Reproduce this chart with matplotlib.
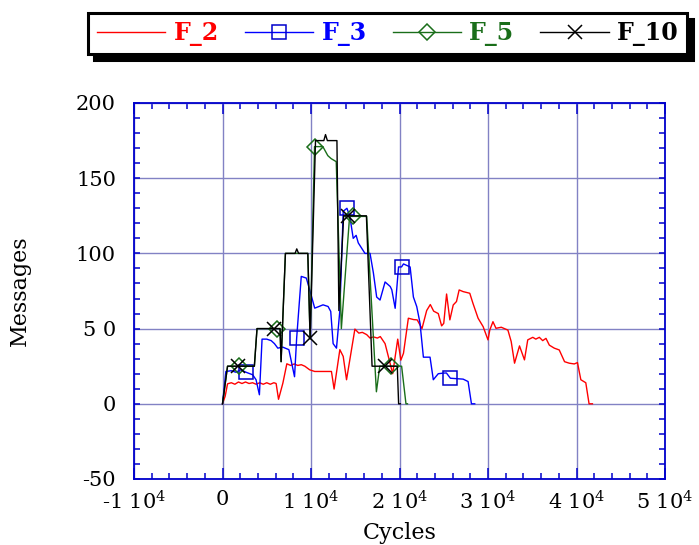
import matplotlib
matplotlib.use("Agg")
import matplotlib.pyplot as plt
from matplotlib.ticker import MultipleLocator, FixedLocator, FixedFormatter

# ---------------- data ----------------
f2_x = [0, 300, 570, 1000, 1400, 1800, 2200, 2600, 3000, 3400, 3800, 4200, 4600, 5000, 5400, 5800,
        6060, 6330, 6820, 7270, 7700, 8100, 8500, 8900, 9300, 9850, 10420, 11000, 11600, 12310,
        12610, 13260, 13640, 14015, 14960, 15400, 15800, 16290, 16670, 17050, 17500, 17830, 18370,
        18760, 19230, 19800, 20150, 20450, 21000, 21590, 22000, 22540, 23070, 23480, 23860, 24380,
        24760, 25000, 25320, 25690, 26070, 26440, 26740, 27190, 27940, 28300, 28880, 29450, 30000,
        30200, 30560, 30900, 31500, 32250, 32620, 33000, 33560, 34120, 34490, 35060, 35400, 35800,
        36180, 36550, 36930, 37490, 38050, 38650, 39180, 39750, 40110, 40490, 41050, 41420, 41800]
f2_y = [0, 5, 13.3, 14, 13, 14.5, 13.5, 14.5, 13.5, 14, 13, 14, 13, 14, 13, 14,
        13.5, 3, 13.7, 26.6, 25.5, 26.5, 25.5, 26, 25, 22.6, 21.5, 21.5, 21.5, 21.5,
        9.8, 36, 31.5, 16, 49.7, 47, 47.5, 46, 43.7, 44.5, 43.7, 44.7, 40,
        31, 20, 43, 29, 33.6, 56.9, 56, 55.8, 50, 62, 66, 61.6, 60,
        51.8, 53.5, 73, 55.8, 65.7, 68, 75.7, 74.6, 73.5, 66.8, 56.9, 51.3, 42.5,
        49, 54.6, 50.2, 50.9, 49, 41.4, 27, 38.5, 29.2, 42.5, 44.2, 43, 44.2,
        42, 43.5, 39, 37, 35.8, 28, 27, 26.5, 27.4, 16, 14, 0, 0]

f3_x = [0, 380, 1000, 1500, 2080, 2650, 3410, 3790, 4170, 4470, 5000, 5500, 5870, 6250, 6800,
        7500, 8140, 8380, 8900, 9470, 9850, 10420, 10900, 11360, 11930, 12230, 12500, 12880,
        13260, 13640, 14060, 14390, 14770, 15100, 15340, 15720, 16100, 16670, 17050, 17420,
        17800, 18370, 18950, 19130, 19510, 19890, 20230, 20450, 21200, 21570, 21950, 22320,
        22700, 23450, 23820, 24380, 24940, 25300, 25750, 27190, 27750, 28130, 28500]
f3_y = [0, 21.5, 22, 21, 22.6, 21, 19.3, 16, 6, 43, 43, 42, 40, 37, 37.7,
        36, 18, 43.7, 84.7, 83.6, 75.8, 63.6, 64.7, 65.8, 64.7, 61.4, 40, 37,
        62, 128, 130, 124.6, 110, 112, 107, 103.5, 100, 100, 87, 71,
        69, 81, 78, 75.8, 63.5, 91, 91, 93, 91, 71, 64.6, 53.5,
        31, 31, 16, 20, 20.4, 20.5, 17, 16.4, 14.8, 0, 0]
f3_marks = [5, 17, 30, 46, 58]

f5_x = [0, 570, 1900, 3600, 3900, 6140, 6500, 6620, 7110, 9640, 9900, 10400, 11340, 11900,
        12280, 12850, 13430, 14360, 14770, 16290, 17390, 17770, 19020, 20240, 20730, 20900]
f5_y = [0, 25, 25, 25, 50, 50, 50, 28, 100, 100, 43, 171, 171, 165,
        163, 161, 50, 124.6, 124.6, 124.6, 8, 25, 25, 25, 0, 0]
f5_marks = [2, 5, 11, 18, 22]

f10_x = [0, 570, 1800, 3600, 3900, 5850, 6500, 6620, 7110, 8200, 8390, 8600, 9640, 9900,
         10510, 11450, 11640, 11850, 12930, 13150, 13690, 14200, 16260, 16900, 18400, 19750,
         19900, 20100]
f10_y = [0, 25, 25, 25, 50, 50, 50, 28, 100, 100, 103, 100, 100, 43.5,
         175, 175, 179, 175, 175, 62, 125, 125, 125, 25, 25, 25,
         0, 0]
f10_marks = [2, 5, 13, 21, 24]

x_ticks = [-10000, 0, 10000, 20000, 30000, 40000, 50000]
x_labels = ["-1 10$^4$", "0", "1 10$^4$", "2 10$^4$", "3 10$^4$", "4 10$^4$", "5 10$^4$"]
y_ticks = [-50, 0, 50, 100, 150, 200]
y_labels = ["-50", "0", "5 0", "100", "150", "200"]

# ---------------- style ----------------
plt.rcParams['font.family'] = ['DejaVu Serif']
plt.rcParams['mathtext.fontset'] = 'dejavuserif'

fig = plt.figure(figsize=(6.99, 5.45), dpi=100)
ax = fig.add_axes([134 / 699, 1 - 479 / 545, (665 - 134) / 699, (479 - 103) / 545])

lw = 1.0
ax.plot(f2_x, f2_y, color='#ff0000', lw=lw, label='F_2')
ax.plot(f3_x, f3_y, color='#0000ff', lw=lw, marker='s', markevery=f3_marks, ms=10,
        mfc='none', mec='#0000cc', mew=1.1, label='F_3')
ax.plot(f5_x, f5_y, color='#1a6e1a', lw=lw, marker='D', markevery=f5_marks, ms=8,
        mfc='none', mec='#1a6e1a', mew=1.1, label='F_5')
ax.plot(f10_x, f10_y, color='#000000', lw=lw, marker='x', markevery=f10_marks, ms=10,
        mew=1.1, label='F_10')

ax.set_xlim(-10000, 50000)
ax.set_ylim(-50, 200)
ax.xaxis.set_major_locator(FixedLocator(x_ticks))
ax.xaxis.set_major_formatter(FixedFormatter(x_labels))
ax.yaxis.set_major_locator(FixedLocator(y_ticks))
ax.yaxis.set_major_formatter(FixedFormatter(y_labels))
ax.xaxis.set_minor_locator(MultipleLocator(2000))
ax.yaxis.set_minor_locator(MultipleLocator(10))

spine_c = '#0000cc'
for s in ax.spines.values():
    s.set_color(spine_c)
    s.set_linewidth(1.3)
ax.tick_params(which='both', direction='in', top=True, right=True, color=spine_c, width=1.1,
               labelsize=15, labelcolor='black')
ax.tick_params(axis='x', which='major', length=8, pad=8)
ax.tick_params(axis='x', which='minor', length=4)
ax.tick_params(axis='y', which='major', length=4.5, pad=13)
ax.tick_params(axis='y', which='minor', length=4.5)
ax.grid(True, which='major', color='#8282c4', lw=1.0)
ax.set_axisbelow(True)

ax.set_xlabel('Cycles', fontsize=16, labelpad=6)
ax.set_ylabel('Messages', fontsize=16, labelpad=32)

leg = fig.legend(loc='upper right', bbox_to_anchor=(0.983, 0.977), ncol=4, frameon=True,
                 fancybox=False, shadow={'ox': 4, 'oy': -4.5, 'facecolor': 'black',
                                          'edgecolor': 'black', 'alpha': 1},
                 prop={'size': 17, 'weight': 'bold'}, labelcolor='linecolor',
                 handlelength=2.9, handletextpad=0.35, columnspacing=1.1,
                 borderpad=0.35, borderaxespad=0.0)
leg.get_frame().set_edgecolor('black')
leg.get_frame().set_linewidth(2.2)

fig.savefig('out.png', dpi=100)
